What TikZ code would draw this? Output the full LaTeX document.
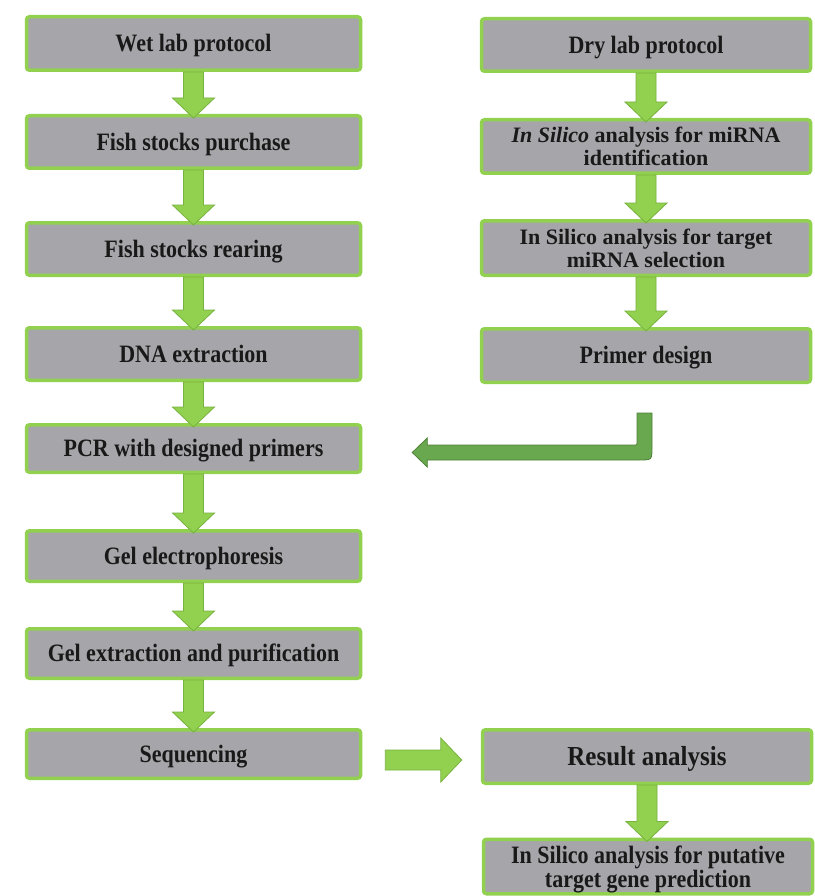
\documentclass[tikz,border=0pt]{standalone}
\usepackage{fontspec}
\setmainfont{Liberation Serif}
\newfontfamily\narrowserif{Liberation Serif}[FakeStretch=0.88]
\newfontfamily\resserif{Liberation Serif}[FakeStretch=0.91]
\usetikzlibrary{calc}
\definecolor{boxgray}{RGB}{166,166,170}
\definecolor{boxgreen}{RGB}{146,208,80}
\definecolor{arrgreen}{RGB}{146,208,80}
\definecolor{arredge}{RGB}{118,178,62}
\definecolor{bentgreen}{RGB}{106,168,79}
\definecolor{bentedge}{RGB}{78,128,55}
\newcommand\darr[2]{\draw[blockarr] let \p1=(#1.south), \p2=(#2.north) in
  (\x1-10,\y1) -- (\x1-10,\y2+16) -- (\x1-21,\y2+16) -- (\x1,\y2-4) --
  (\x1+21,\y2+16) -- (\x1+10,\y2+16) -- (\x1+10,\y1) -- cycle;}
\begin{document}
\begin{tikzpicture}[x=1pt,y=-1pt,
  box/.style={draw=boxgreen, line width=3.5pt, fill=boxgray, rounded corners=3pt,
    inner sep=0pt, align=center, text=black!90,
    font=\narrowserif\fontsize{25}{24}\selectfont\bfseries},
  one/.style={text height=16.5pt, text depth=0pt},
  small/.style={font=\fontsize{22}{23}\selectfont\bfseries},
  lbox/.style={box, one, minimum width=334pt},
  rbox/.style={box, minimum width=329pt},
  blockarr/.style={fill=arrgreen, draw=arredge, line width=0.8pt},
  bentarr/.style={fill=bentgreen, draw=bentedge, line width=0.8pt}]
\useasboundingbox (0,0) rectangle (814,896);
\fill[white] (0,0) rectangle (814,896);
% left column
\node[lbox, minimum height=53.5pt] (wet) at (193.5,43.5) {Wet lab protocol};
\node[lbox, minimum height=52.5pt] (purchase) at (193.5,142) {Fish stocks purchase};
\node[lbox, minimum height=52.5pt] (rearing) at (193.5,249) {Fish stocks rearing};
\node[lbox, minimum height=52.5pt] (dna) at (193.5,354) {DNA extraction};
\node[lbox, minimum height=47.5pt] (pcr) at (193.5,448.5) {PCR with designed primers};
\node[lbox, minimum height=50.5pt] (gel) at (193.5,556) {Gel electrophoresis};
\node[lbox, minimum height=49.5pt] (gelx) at (193.5,653.5) {Gel extraction and purification};
\node[lbox, minimum height=48.5pt] (seq) at (193.5,754) {Sequencing};
% right column
\node[rbox, one, minimum height=52.5pt] (dry) at (646,45) {Dry lab protocol};
\node[rbox, small, minimum height=53.5pt] (ident) at (646,146.5) {\textit{In Silico} analysis for miRNA\\identification};
\node[rbox, small, minimum height=54.5pt] (target) at (646,248) {In Silico analysis for target\\miRNA selection};
\node[rbox, one, minimum height=53.5pt] (primer) at (646,355.5) {Primer design};
\node[rbox, minimum height=53.5pt, text height=17pt, text depth=0pt,
  font=\resserif\fontsize{27.5}{27.5}\selectfont\bfseries] (res) at (647,756.5) {Result analysis};
\node[rbox, text depth=0pt, minimum height=54.5pt] (put) at (648,866.5) {In Silico analysis for putative\\target gene prediction};
% down arrows
\darr{wet}{purchase}
\darr{purchase}{rearing}
\darr{rearing}{dna}
\darr{dna}{pcr}
\darr{pcr}{gel}
\darr{gel}{gelx}
\darr{gelx}{seq}
\darr{dry}{ident}
\darr{ident}{target}
\darr{target}{primer}
\darr{res}{put}
% bent arrow from primer design to PCR
\draw[bentarr] let \p1=(primer.south), \p2=(pcr.east) in
  (\x1-9,\y1-29) -- (\x1+6,\y1-29) -- (\x1+6,\y2+1)
  .. controls (\x1+6,\y2-11.5) .. (\x1-7,\y2-11.5)
  -- (\x2+65,\y2-11.5) -- (\x2+65,\y2-18.5) -- (\x2+50,\y2-4)
  -- (\x2+65,\y2+10.5) -- (\x2+65,\y2+3.5) -- (\x1-10,\y2+3.5)
  .. controls (\x1-9,\y2+3.5) .. (\x1-9,\y2+5) -- cycle;
% right arrow from sequencing to result analysis
\draw[blockarr] let \p1=(seq.east), \p2=(res.west) in
  (\x1+23,\y1+4) -- (\x2-40,\y1+4) -- (\x2-40,\y1+16) -- (\x2-19,\y1-6)
  -- (\x2-40,\y1-28) -- (\x2-40,\y1-16) -- (\x1+23,\y1-16) -- cycle;
\end{tikzpicture}
\end{document}
